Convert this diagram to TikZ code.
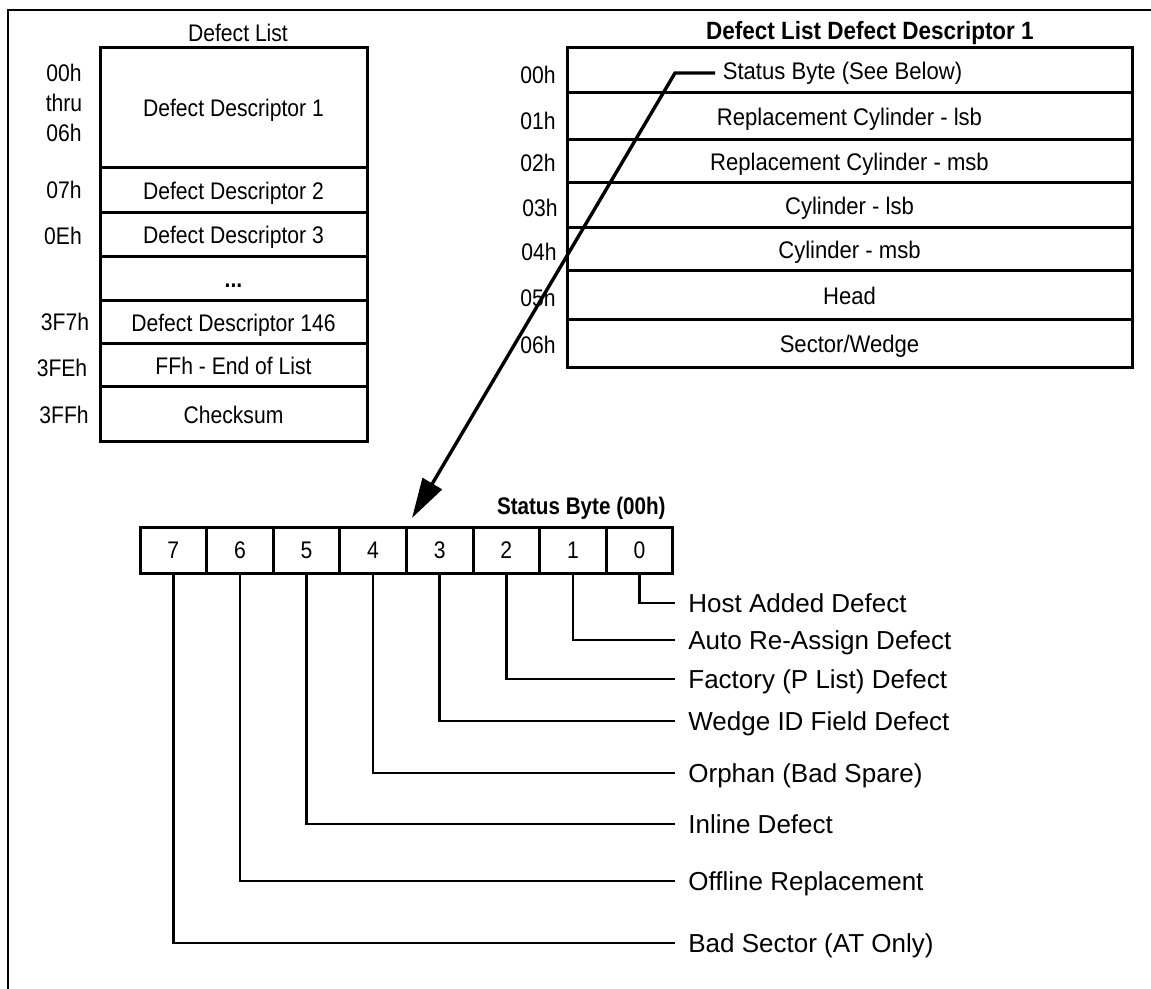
\documentclass[tikz,border=0pt]{standalone}
\usepackage{fontspec}
\setmainfont{Liberation Sans}
\newfontfamily\narrowsf[FakeStretch=0.88]{Liberation Sans}
\newfontfamily\rnarrowsf[FakeStretch=0.92]{Liberation Sans}
\newfontfamily\narrowbf[FakeStretch=0.86]{Liberation Sans Bold}
\newfontfamily\titlebf[FakeStretch=0.9]{Liberation Sans Bold}
\usetikzlibrary{arrows.meta}
\newcommand{\tabfont}{\narrowsf\fontsize{12}{15}\selectfont}
\newcommand{\rtabfont}{\rnarrowsf\fontsize{12}{15}\selectfont}
\newcommand{\lblfont}{\fontsize{13}{15}\selectfont}
\newcommand{\ttlfont}{\narrowbf\fontsize{12}{15}\selectfont}
\newcommand{\bigttlfont}{\titlebf\fontsize{12.5}{15}\selectfont}
\begin{document}
\begin{tikzpicture}[x=0.5pt,y=-0.5pt,
  box/.style={draw, line width=1.5pt, inner sep=0pt, font=\tabfont, text height=8.6pt, text depth=0pt},
  lrow/.style={box, minimum width=133.5pt, minimum height=#1},
  rrow/.style={box, font=\rtabfont, minimum width=282.5pt, minimum height=#1},
  bitcell/.style={box, minimum width=33.3pt, minimum height=23pt},
  addr/.style={inner sep=0pt, font=\tabfont, text height=8.6pt, text depth=0pt},
  lbl/.style={anchor=west, inner xsep=6.5pt, inner ysep=0pt, font=\lblfont, text height=9.3pt, text depth=0pt},
  bitline/.style={line width=1.3pt},
  framel/.style={line width=1.4pt},
  arr/.style={line width=1.7pt, -{Triangle[length=20pt,width=11pt]}}
]
\useasboundingbox (0,0) rectangle (1151,989);
% frame
\draw[framel] (8,989) -- (8,10) -- (1151,10);

% ---------- left table ----------
\node[font=\narrowsf\fontsize{12}{15}\selectfont] (ttlL) at (238,33) {Defect List};
\node[lrow=60pt]   (d1)   at (233.5,108)   {Defect Descriptor 1};
\node[lrow=22.5pt] (d2)   at (233.5,190.5) {Defect Descriptor 2};
\node[lrow=22pt]   (d3)   at (233.5,235)   {Defect Descriptor 3};
\node[lrow=22pt]   (dots) at (233.5,279)   {\textbf{...}};
\node[lrow=21.5pt] (d146) at (233.5,322.5) {Defect Descriptor 146};
\node[lrow=21.5pt] (dend) at (233.5,365.5) {FFh - End of List};
\node[lrow=27.5pt] (dchk) at (233.5,414.5) {Checksum};

\node[font=\tabfont, align=center, inner sep=0pt] (a00) at (64,103) {00h\\thru\\06h};
\node[addr] (a07)  at (64,190)  {07h};
\node[addr] (a0E)  at (63,236)  {0Eh};
\node[addr] (a3F7) at (65,322)  {3F7h};
\node[addr] (a3FE) at (62,368)  {3FEh};
\node[addr] (a3FF) at (64,415)  {3FFh};

% ---------- right table ----------
\node[font=\bigttlfont] (ttlR) at (870,33) {Defect List Defect Descriptor 1};
\node[rrow=22.5pt] (r0) at (849.5,70.5)  {\hspace*{-7pt}Status Byte (See Below)};
\node[rrow=23.5pt] (r1) at (849.5,116.5) {Replacement Cylinder - lsb};
\node[rrow=21.5pt] (r2) at (849.5,161.5) {Replacement Cylinder - msb};
\node[rrow=22.5pt] (r3) at (849.5,205.5) {Cylinder - lsb};
\node[rrow=21.5pt] (r4) at (849.5,249.5) {Cylinder - msb};
\node[rrow=24.5pt] (r5) at (849.5,295.5) {Head};
\node[rrow=24pt]   (r6) at (849.5,344)   {Sector/Wedge};

\node[addr] (o0) at (538,75)  {00h};
\node[addr] (o1) at (538,121) {01h};
\node[addr] (o2) at (538,163) {02h};
\node[addr] (o3) at (540,208) {03h};
\node[addr] (o4) at (539,252) {04h};
\node[addr] (o5) at (538,298) {05h};
\node[addr] (o6) at (538,345) {06h};

% ---------- status byte ----------
\node[font=\ttlfont, anchor=east, inner sep=0pt, text height=8.6pt, text depth=0pt] (ttlS) at (666,506) {Status Byte (00h)};
\node[bitcell] (b7) at (173.3,550) {7};
\node[bitcell] (b6) at (239.9,550) {6};
\node[bitcell] (b5) at (306.5,550) {5};
\node[bitcell] (b4) at (373.1,550) {4};
\node[bitcell] (b3) at (439.7,550) {3};
\node[bitcell] (b2) at (506.3,550) {2};
\node[bitcell] (b1) at (572.9,550) {1};
\node[bitcell] (b0) at (639.5,550) {0};

% arrow from status byte row to the bit field
\coordinate (as) at (715,73);
\coordinate (ab) at (675,73);
\coordinate (at) at (412,518);
\draw[arr] (as) -- (ab) -- (at);

% bit descriptions
\node[lbl] (l0) at (675,603) {Host Added Defect};
\node[lbl] (l1) at (675,640) {Auto Re-Assign Defect};
\node[lbl] (l2) at (675,679) {Factory (P List) Defect};
\node[lbl] (l3) at (675,721) {Wedge ID Field Defect};
\node[lbl] (l4) at (675,773) {Orphan (Bad Spare)};
\node[lbl] (l5) at (675,824) {Inline Defect};
\node[lbl] (l6) at (675,881) {Offline Replacement};
\node[lbl] (l7) at (675,943) {Bad Sector (AT Only)};

\draw[bitline] (b0.south) |- (l0.west);
\draw[bitline] (b1.south) |- (l1.west);
\draw[bitline] (b2.south) |- (l2.west);
\draw[bitline] (b3.south) |- (l3.west);
\draw[bitline] (b4.south) |- (l4.west);
\draw[bitline] (b5.south) |- (l5.west);
\draw[bitline] (b6.south) |- (l6.west);
\draw[bitline] (b7.south) |- (l7.west);
\end{tikzpicture}
\end{document}
